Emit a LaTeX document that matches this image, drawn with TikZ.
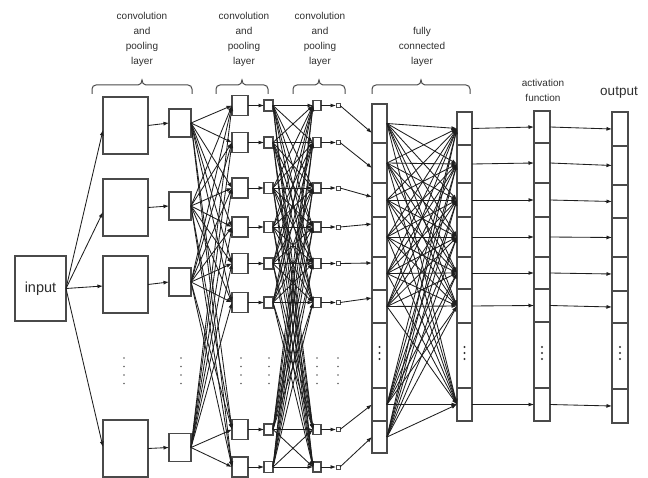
\documentclass[tikz,border=0pt]{standalone}
\usepackage{fontspec}
\setmainfont{Liberation Sans}
\usetikzlibrary{arrows.meta}
\definecolor{boxgray}{HTML}{4a4a4a}
\definecolor{linegray}{HTML}{1e1e1e}
\definecolor{labelgray}{HTML}{2e2e2e}
\definecolor{dotgray}{HTML}{606060}
\begin{document}
\begin{tikzpicture}[x=1pt,y=-1pt,
  box/.style={draw=boxgray, line width=1.1pt, fill=white, inner sep=0pt, outer sep=0pt},
  conn/.style={draw=linegray, line width=0.85pt, -{Latex[length=5.5pt,width=4pt]}},
  lbl/.style={text=labelgray, font=\fontsize{10}{15}\selectfont, align=center, inner sep=0pt, anchor=base},
  bracestyle/.style={draw=boxgray, line width=1pt}]
\useasboundingbox (0,0) rectangle (648,478);
\clip (0,0) rectangle (648,478);

% labels (base anchor = baseline of last line)
\node[lbl] (l1) at (142,64.5) {convolution\\and\\pooling\\layer};
\node[lbl] (l2) at (244,64.5) {convolution\\and\\pooling\\layer};
\node[lbl] (l3) at (320,64.5) {convolution\\and\\pooling\\layer};
\node[lbl] (l4) at (422,64.5) {fully\\connected\\layer};
\node[lbl] (l5) at (543,102) {activation\\function};
\node[lbl, font=\fontsize{13.5}{16}\selectfont] (l6) at (619,96) {output};

% braces
\foreach \a/\b in {92/192,216/268,293/345,372/470}{
  \pgfmathsetmacro{\m}{(\a+\b)/2}
  \draw[bracestyle] (\a,94) -- (\a,89) to[out=90,in=180] (\a+4,85) -- (\m-4,85)
     to[out=0,in=-90] (\m,80) to[out=-90,in=180] (\m+4,85) -- (\b-4,85)
     to[out=0,in=90] (\b,89) -- (\b,94);
}

% input
\node[box, minimum width=51pt, minimum height=65pt, font=\fontsize{14.5}{17}\selectfont, text=labelgray] (in) at (40.5,288.5) {input};

% first convolution and pooling
\foreach \y [count=\n] in {125.5,207.5,284.5,448.5}
  \node[box, minimum width=45pt, minimum height=57pt] (B\n) at (125.5,\y) {};
\foreach \y [count=\n] in {123,206,282,447.5}
  \node[box, minimum width=22pt, minimum height=28pt] (S\n) at (180,\y) {};

% second and third
\foreach \y [count=\n] in {105.5,142.5,188,227,263.5,302.5,429.5,467}{
  \node[box, minimum width=16pt, minimum height=20pt] (C\n) at (240,\y) {};
  \node[box, minimum width=9pt, minimum height=11pt] (D\n) at (268.5,\y) {};
  \node[box, minimum width=8pt, minimum height=10pt] (E\n) at (317,\y) {};
  \node[box, line width=0.8pt, minimum width=4pt, minimum height=4pt] (F\n) at (338,\y) {};
}

% fully connected columns
\foreach \t/\b [count=\n] in {104/143,143/183,183/217,217/257,257/290,290/323,323/388,388/421,421/453}
  \node[box, minimum width=15pt, minimum height={(\b-\t)*1pt}] (A\n) at (379.5,{(\t+\b)/2}) {};
\foreach \t/\b [count=\n] in {112/145,145/183,183/217,217/257,257/289,289/323,323/388,388/421}
  \node[box, minimum width=15pt, minimum height={(\b-\t)*1pt}] (K\n) at (464.5,{(\t+\b)/2}) {};
\foreach \t/\b [count=\n] in {111/143,143/183,183/217,217/257,257/289,289/322,322/388,388/421}
  \node[box, minimum width=16pt, minimum height={(\b-\t)*1pt}] (G\n) at (542,{(\t+\b)/2}) {};
\foreach \t/\b [count=\n] in {112/146,146/185,185/218,218/257,257/291,291/323,323/389,389/423}
  \node[box, minimum width=16pt, minimum height={(\b-\t)*1pt}] (O\n) at (620,{(\t+\b)/2}) {};

% dots
\foreach \x in {124,181,241,269,317,338}
  \foreach \y in {358,366.5,375,383.5}
    \fill[dotgray] (\x,\y) circle (0.9pt);
\foreach \x in {379.5,464.5,542,620}
  \foreach \y in {347,353,359}
    \fill[black!80] (\x,\y) circle (1.1pt);

% connectors
\foreach \n/\s in {1/-4.5,2/-4.5,3/-1.5,4/1.5}
  \draw[conn] (in.east) -- ([yshift=\s pt]B\n.west);
\foreach \n in {1,...,4}
  \draw[conn] (B\n.east) -- (S\n.west);
\foreach \i in {1,...,4}
  \foreach \j in {1,...,8}
    \draw[conn] (S\i.east) -- (C\j.west);
\foreach \n in {1,...,8}{
  \draw[conn] (C\n.east) -- (D\n.west);
  \draw[conn] (E\n.east) -- (F\n.west);
}
\foreach \i in {1,...,8}
  \foreach \j in {1,...,8}
    \draw[conn] (D\i.east) -- (E\j.west);
\foreach \n/\m/\s in {1/1/-9.5,2/2/-5,3/3/3,4/4/13,5/5/10.5,6/6/8.5,7/8/0,8/9/0}
  \draw[conn] (F\n.east) -- ([yshift=\s pt]A\m.west);
\foreach \i in {1,2,3,4,5,6,8,9}
  \foreach \j in {1,2,3,4,5,6,8}
    \draw[conn] (A\i.east) -- (K\j.west);
\foreach \j in {1,2,3,4,5,6,8}{
  \draw[conn] (K\j.east) -- (G\j.west);
  \draw[conn] (G\j.east) -- (O\j.west);
}
\end{tikzpicture}
\end{document}
